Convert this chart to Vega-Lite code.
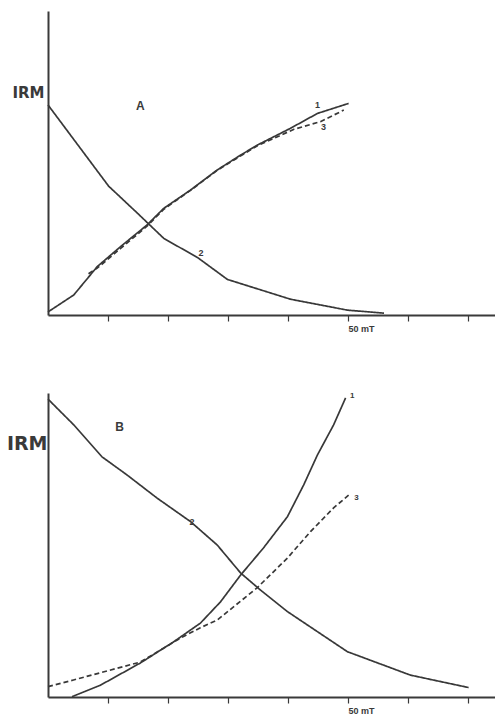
{
  "$schema": "https://vega.github.io/schema/vega-lite/v6.json",
  "background": "white",
  "padding": {"left": 6, "top": 11, "right": 0, "bottom": 0},
  "spacing": 58,
  "config": {
    "view": {"stroke": null},
    "font": "Liberation Sans",
    "axis": {"grid": false, "domainColor": "#3a3a3a", "domainWidth": 2, "tickColor": "#3a3a3a", "labelColor": "#3a3a3a", "titleColor": "#3a3a3a"}
  },
  "datasets": {
    "curvesA": [
      {"curve": "2", "style": "solid", "mT": 0, "irm": 69.1},
      {"curve": "2", "style": "solid", "mT": 10.1, "irm": 42.4},
      {"curve": "2", "style": "solid", "mT": 14.9, "irm": 33.5},
      {"curve": "2", "style": "solid", "mT": 19.3, "irm": 25.2},
      {"curve": "2", "style": "solid", "mT": 25.0, "irm": 18.8},
      {"curve": "2", "style": "solid", "mT": 29.9, "irm": 11.7},
      {"curve": "2", "style": "solid", "mT": 40.4, "irm": 5.2},
      {"curve": "2", "style": "solid", "mT": 49.9, "irm": 1.6},
      {"curve": "2", "style": "solid", "mT": 56.0, "irm": 0.6},
      {"curve": "1", "style": "solid", "mT": 0, "irm": 1.0},
      {"curve": "1", "style": "solid", "mT": 4.3, "irm": 6.6},
      {"curve": "1", "style": "solid", "mT": 8.2, "irm": 15.9},
      {"curve": "1", "style": "solid", "mT": 12.1, "irm": 22.5},
      {"curve": "1", "style": "solid", "mT": 16.5, "irm": 29.6},
      {"curve": "1", "style": "solid", "mT": 19.3, "irm": 35.1},
      {"curve": "1", "style": "solid", "mT": 23.75, "irm": 41.1},
      {"curve": "1", "style": "solid", "mT": 28.2, "irm": 47.7},
      {"curve": "1", "style": "solid", "mT": 32.1, "irm": 52.6},
      {"curve": "1", "style": "solid", "mT": 34.9, "irm": 55.9},
      {"curve": "1", "style": "solid", "mT": 40.4, "irm": 61.4},
      {"curve": "1", "style": "solid", "mT": 44.9, "irm": 66.3},
      {"curve": "1", "style": "solid", "mT": 50.1, "irm": 69.6},
      {"curve": "3", "style": "dashed", "mT": 6.75, "irm": 13.6},
      {"curve": "3", "style": "dashed", "mT": 8.2, "irm": 15.4},
      {"curve": "3", "style": "dashed", "mT": 12.1, "irm": 21.9},
      {"curve": "3", "style": "dashed", "mT": 16.5, "irm": 29.2},
      {"curve": "3", "style": "dashed", "mT": 19.3, "irm": 34.8},
      {"curve": "3", "style": "dashed", "mT": 23.75, "irm": 41.0},
      {"curve": "3", "style": "dashed", "mT": 28.2, "irm": 47.6},
      {"curve": "3", "style": "dashed", "mT": 34.9, "irm": 55.7},
      {"curve": "3", "style": "dashed", "mT": 41.0, "irm": 61.1},
      {"curve": "3", "style": "dashed", "mT": 45.4, "irm": 63.6},
      {"curve": "3", "style": "dashed", "mT": 49.3, "irm": 67.4}
    ],
    "labelsA": [
      {"text": "A", "mT": 15.4, "irm": 68.8, "size": 12},
      {"text": "1", "mT": 44.9, "irm": 69.0, "size": 9},
      {"text": "3", "mT": 45.9, "irm": 61.9, "size": 9},
      {"text": "2", "mT": 25.5, "irm": 20.5, "size": 9}
    ],
    "curvesB": [
      {"curve": "2", "style": "solid", "mT": 0, "irm": 98.0},
      {"curve": "2", "style": "solid", "mT": 4.3, "irm": 89.5},
      {"curve": "2", "style": "solid", "mT": 9.0, "irm": 79.0},
      {"curve": "2", "style": "solid", "mT": 13.2, "irm": 73.0},
      {"curve": "2", "style": "solid", "mT": 18.2, "irm": 65.4},
      {"curve": "2", "style": "solid", "mT": 23.75, "irm": 57.7},
      {"curve": "2", "style": "solid", "mT": 28.2, "irm": 50.0},
      {"curve": "2", "style": "solid", "mT": 32.1, "irm": 40.8},
      {"curve": "2", "style": "solid", "mT": 35.4, "irm": 35.2},
      {"curve": "2", "style": "solid", "mT": 39.9, "irm": 28.1},
      {"curve": "2", "style": "solid", "mT": 49.9, "irm": 14.9},
      {"curve": "2", "style": "solid", "mT": 60.4, "irm": 7.2},
      {"curve": "2", "style": "solid", "mT": 70.1, "irm": 3.1},
      {"curve": "1", "style": "solid", "mT": 4.0, "irm": 0.1},
      {"curve": "1", "style": "solid", "mT": 8.75, "irm": 3.9},
      {"curve": "1", "style": "solid", "mT": 15.4, "irm": 11.2},
      {"curve": "1", "style": "solid", "mT": 20.9, "irm": 18.1},
      {"curve": "1", "style": "solid", "mT": 25.4, "irm": 24.3},
      {"curve": "1", "style": "solid", "mT": 28.75, "irm": 31.3},
      {"curve": "1", "style": "solid", "mT": 32.1, "irm": 40.1},
      {"curve": "1", "style": "solid", "mT": 35.9, "irm": 49.0},
      {"curve": "1", "style": "solid", "mT": 39.9, "irm": 59.3},
      {"curve": "1", "style": "solid", "mT": 42.6, "irm": 69.7},
      {"curve": "1", "style": "solid", "mT": 44.9, "irm": 79.6},
      {"curve": "1", "style": "solid", "mT": 47.6, "irm": 89.5},
      {"curve": "1", "style": "solid", "mT": 49.6, "irm": 98.4},
      {"curve": "3", "style": "dashed", "mT": 0, "irm": 3.4},
      {"curve": "3", "style": "dashed", "mT": 4.25, "irm": 5.6},
      {"curve": "3", "style": "dashed", "mT": 9.9, "irm": 8.6},
      {"curve": "3", "style": "dashed", "mT": 15.4, "irm": 11.5},
      {"curve": "3", "style": "dashed", "mT": 22.1, "irm": 19.4},
      {"curve": "3", "style": "dashed", "mT": 25.4, "irm": 22.8},
      {"curve": "3", "style": "dashed", "mT": 28.2, "irm": 25.3},
      {"curve": "3", "style": "dashed", "mT": 34.9, "irm": 36.0},
      {"curve": "3", "style": "dashed", "mT": 39.9, "irm": 45.7},
      {"curve": "3", "style": "dashed", "mT": 43.75, "irm": 54.4},
      {"curve": "3", "style": "dashed", "mT": 47.6, "irm": 62.2},
      {"curve": "3", "style": "dashed", "mT": 50.1, "irm": 66.4}
    ],
    "labelsB": [
      {"text": "B", "mT": 11.95, "irm": 88.9, "size": 12},
      {"text": "2", "mT": 24.0, "irm": 57.7, "size": 9},
      {"text": "1", "mT": 50.7, "irm": 99.1, "size": 8},
      {"text": "3", "mT": 51.4, "irm": 65.6, "size": 8}
    ]
  },
  "vconcat": [
    {
      "width": 447,
      "height": 304,
      "layer": [
        {
          "data": {"name": "curvesA"},
          "mark": {"type": "line", "strokeWidth": 1.7, "color": "#383838"},
          "encoding": {
            "x": {"field": "mT", "type": "quantitative", "scale": {"domain": [0, 74.5], "nice": false},
              "axis": {"values": [10, 20, 30, 40, 50, 60, 70], "labelExpr": "datum.value == 50 ? '50 mT' : ''", "title": null, "tickSize": 6, "tickWidth": 1.2, "labelFontSize": 9, "labelFontWeight": "bold", "labelAlign": "left", "labelDx": -6, "labelPadding": 3}},
            "y": {"field": "irm", "type": "quantitative", "scale": {"domain": [0, 100], "nice": false},
              "axis": {"title": "IRM", "titleFont": "DejaVu Sans", "titleAngle": 0, "titleAlign": "right", "titleBaseline": "middle", "titleX": -4, "titleY": 81, "titleFontSize": 15, "titleFontWeight": "bold", "ticks": false, "labels": false}},
            "detail": {"field": "curve"},
            "strokeDash": {"field": "style", "type": "nominal", "scale": {"domain": ["solid", "dashed"], "range": [[1, 0], [5, 3]]}, "legend": null}
          }
        },
        {
          "data": {"name": "labelsA"},
          "mark": {"type": "text", "fontWeight": "bold", "color": "#3a3a3a"},
          "encoding": {
            "x": {"field": "mT", "type": "quantitative"},
            "y": {"field": "irm", "type": "quantitative"},
            "text": {"field": "text"},
            "size": {"field": "size", "type": "quantitative", "scale": null}
          }
        }
      ]
    },
    {
      "width": 447,
      "height": 304,
      "layer": [
        {
          "data": {"name": "curvesB"},
          "mark": {"type": "line", "strokeWidth": 1.7, "color": "#383838"},
          "encoding": {
            "x": {"field": "mT", "type": "quantitative", "scale": {"domain": [0, 74.5], "nice": false},
              "axis": {"values": [10, 20, 30, 40, 50, 60, 70], "labelExpr": "datum.value == 50 ? '50 mT' : ''", "title": null, "tickSize": 6, "tickWidth": 1.2, "labelFontSize": 9, "labelFontWeight": "bold", "labelAlign": "left", "labelDx": -6, "labelPadding": 3}},
            "y": {"field": "irm", "type": "quantitative", "scale": {"domain": [0, 100], "nice": false},
              "axis": {"title": "IRM", "titleFont": "DejaVu Sans", "titleAngle": 0, "titleAlign": "right", "titleBaseline": "middle", "titleX": -1, "titleY": 50, "titleFontSize": 19, "titleFontWeight": "bold", "ticks": false, "labels": false}},
            "detail": {"field": "curve"},
            "strokeDash": {"field": "style", "type": "nominal", "scale": {"domain": ["solid", "dashed"], "range": [[1, 0], [7, 4]]}, "legend": null}
          }
        },
        {
          "data": {"name": "labelsB"},
          "mark": {"type": "text", "fontWeight": "bold", "color": "#3a3a3a"},
          "encoding": {
            "x": {"field": "mT", "type": "quantitative"},
            "y": {"field": "irm", "type": "quantitative"},
            "text": {"field": "text"},
            "size": {"field": "size", "type": "quantitative", "scale": null}
          }
        }
      ]
    }
  ]
}
